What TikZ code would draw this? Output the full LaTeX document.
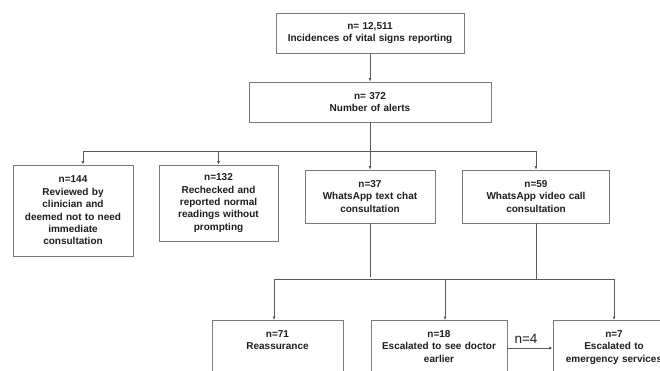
\documentclass[tikz,border=0pt]{standalone}
\usepackage{fontspec}
\setmainfont{Liberation Sans}
\usepackage{xcolor}
\usepackage{tikz}
\usetikzlibrary{arrows.meta, positioning, calc}
\definecolor{boxgray}{HTML}{7A7A7A}
\definecolor{linegray}{HTML}{5A5A5A}
\definecolor{inkblack}{HTML}{1E1E1E}
\tikzset{
  flowbox/.style={draw=boxgray, line width=0.8pt, fill=white, text=inkblack,
    font=\bfseries\fontsize{10}{12.4}\selectfont, align=center, inner sep=2pt},
  lowbox/.style={flowbox, anchor=north, inner ysep=10pt, text depth=60pt},
  link/.style={draw=linegray, line width=0.7pt},
  flowarrow/.style={link, -{Latex[length=3.5pt, width=3pt]}}
}

\begin{document}
\begin{tikzpicture}[x=1pt, y=-1pt]
\useasboundingbox (0,0) rectangle (660,371);
\clip (0,0) rectangle (660,371);
\fill[white] (0,0) rectangle (660,371);
% top of the chart
\node[flowbox, text width=184pt, minimum height=40pt] (incid) at (370,33)
  {n= 12,511\\Incidences of vital signs reporting};
\node[flowbox, text width=238pt, minimum height=40pt] (alerts) at (370,102)
  {n= 372\\Number of alerts};
% alert outcomes
\node[flowbox, text width=116pt, minimum height=91pt] (review) at (73,210.5)
  {n=144\\Reviewed by\\clinician and\\deemed not to need\\immediate\\consultation};
\node[flowbox, text width=115pt, minimum height=76pt] (recheck) at (218.5,203)
  {n=132\\Rechecked and\\reported normal\\readings without\\prompting};
\node[flowbox, text width=126pt, minimum height=53pt] (chat) at (370,196.5)
  {n=37\\WhatsApp text chat\\consultation};
\node[flowbox, text width=143pt, minimum height=53pt] (video) at (536,196.5)
  {n=59\\WhatsApp video call\\consultation};
% consultation outcomes
\node[lowbox, text width=127pt] (reass) at (277.5,320) {n=71\\Reassurance};
\node[lowbox, text width=132pt] (doctor) at (439,320)
  {n=18\\Escalated to see doctor\\earlier};
\node[lowbox, text width=118pt] (emerg) at (614,320)
  {n=7\\Escalated to\\emergency services};
% connectors
\coordinate (split) at (370,151);
\coordinate (merge) at (536,279);
\coordinate (chatend) at (370,277);
\draw[flowarrow] (incid) -- (alerts);
\draw[link] (alerts) -- (split);
\draw[link] ([xshift=10pt]review.north |- split) -- (video.north |- split);
\draw[flowarrow] ([xshift=10pt]review.north |- split) -- ([xshift=10pt]review.north);
\draw[flowarrow] (recheck.north |- split) -- (recheck.north);
\draw[flowarrow] (split) -- (chat);
\draw[flowarrow] (video.north |- split) -- (video.north);
\draw[link] (chat) -- (chatend);
\draw[link] (video) -- (merge);
\draw[link] ([xshift=-3.5pt]reass.north |- merge) -- (emerg.north |- merge);
\draw[flowarrow] ([xshift=-3.5pt]reass.north |- merge) -- ([xshift=-3.5pt]reass.north);
\draw[flowarrow] ([xshift=6pt]doctor.north |- merge) -- ([xshift=6pt]doctor.north);
\draw[flowarrow] (emerg.north |- merge) -- (emerg.north);
\draw[flowarrow] ([yshift=-28pt]doctor.north east) -- ([yshift=-28pt]emerg.north west)
  node[midway, above=1pt, xshift=-4pt, text=inkblack, font=\fontsize{13.5}{14}\selectfont] {n=4};
\end{tikzpicture}
\end{document}
